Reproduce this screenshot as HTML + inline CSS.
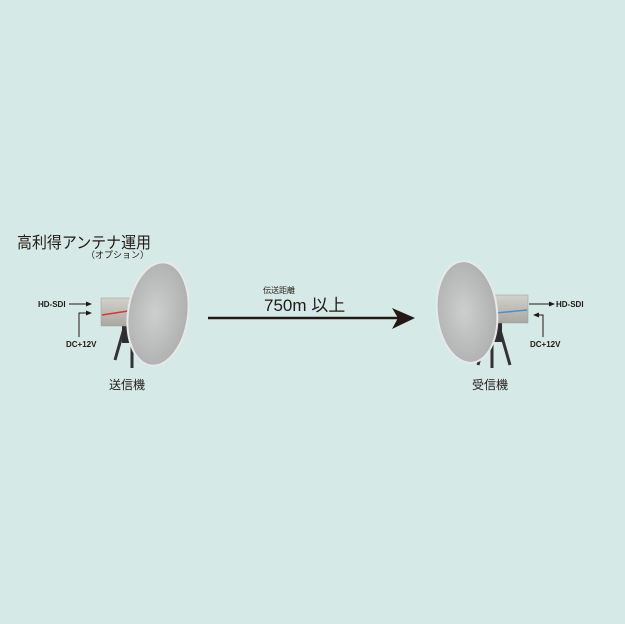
<!DOCTYPE html>
<html><head><meta charset="utf-8"><style>
html,body{margin:0;padding:0;background:#d5eae6;}
svg{display:block}
text{font-family:"Liberation Sans","Noto Sans CJK JP",sans-serif;fill:#231815}
</style></head><body>
<svg width="625" height="624" viewBox="0 0 625 624" xmlns="http://www.w3.org/2000/svg">
<defs>
<radialGradient id="dish" cx="0.45" cy="0.5" r="0.6">
<stop offset="0" stop-color="#cdcfce"/><stop offset="1" stop-color="#abaead"/>
</radialGradient>
<linearGradient id="box" x1="0" y1="0" x2="0" y2="1">
<stop offset="0" stop-color="#d2d2cc"/><stop offset="1" stop-color="#a9a8a0"/>
</linearGradient>
</defs>
<rect width="625" height="624" fill="#d5eae6"/>
<text x="17" y="248" font-size="16" textLength="134" lengthAdjust="spacingAndGlyphs">高利得アンテナ運用</text>
<text x="86" y="258" font-size="9">（オプション）</text>

<!-- left transmitter -->
<g>
<path d="M115 360 L125 325 L140 325 L150 365 M132 325 L132 368" stroke="#333" stroke-width="3" fill="none"/>
<rect x="122" y="325" width="18" height="18" fill="#2e2e2e"/>
<rect x="101" y="298" width="38" height="28" fill="url(#box)" stroke="#999" stroke-width="0.5"/>
<path d="M102 315 L128 311" stroke="#d33" stroke-width="1.5"/>
<ellipse cx="158" cy="314" rx="30" ry="52" fill="url(#dish)" stroke="#e8e8e8" stroke-width="2" transform="rotate(8 158 314)"/>
</g>
<text x="38" y="307" font-size="8" font-weight="bold">HD-SDI</text>
<path d="M69 304 H88" stroke="#231815" stroke-width="1"/>
<path d="M92 304 L86 301.5 V306.5 Z" fill="#231815"/>
<path d="M79 337 V313 H88" stroke="#231815" stroke-width="1" fill="none"/>
<path d="M92 313 L86 310.5 V315.5 Z" fill="#231815"/>
<text x="66" y="347" font-size="8" font-weight="bold">DC+12V</text>
<text x="109" y="389" font-size="12">送信機</text>

<!-- arrow -->
<text x="263" y="293" font-size="8">伝送距離</text>
<text x="264" y="311" font-size="17">750m 以上</text>
<path d="M208 318 H402" stroke="#231815" stroke-width="2.5"/>
<path d="M415 318 L392 308 L398 318 L392 329 Z" fill="#231815"/>

<!-- right receiver -->
<g>
<path d="M478 365 L487 330 L500 330 L510 365 M492 330 L492 368" stroke="#333" stroke-width="3" fill="none"/>
<rect x="480" y="322" width="22" height="20" fill="#2e2e2e"/>
<rect x="489" y="295" width="39" height="28" fill="url(#box)" stroke="#999" stroke-width="0.5"/>
<path d="M496 313 L527 310" stroke="#4a8fcf" stroke-width="1.5"/>
<ellipse cx="467" cy="312" rx="30" ry="51" fill="url(#dish)" stroke="#e8e8e8" stroke-width="2" transform="rotate(-6 467 312)"/>
</g>
<path d="M529 304 H551" stroke="#231815" stroke-width="1"/>
<path d="M555 304 L549 301.5 V306.5 Z" fill="#231815"/>
<text x="556" y="307" font-size="8" font-weight="bold">HD-SDI</text>
<path d="M543 337 V315 H537" stroke="#231815" stroke-width="1" fill="none"/>
<path d="M533 315 L539 312.5 V317.5 Z" fill="#231815"/>
<text x="530" y="347" font-size="8" font-weight="bold">DC+12V</text>
<text x="472" y="389" font-size="12">受信機</text>
</svg>
</body></html>
